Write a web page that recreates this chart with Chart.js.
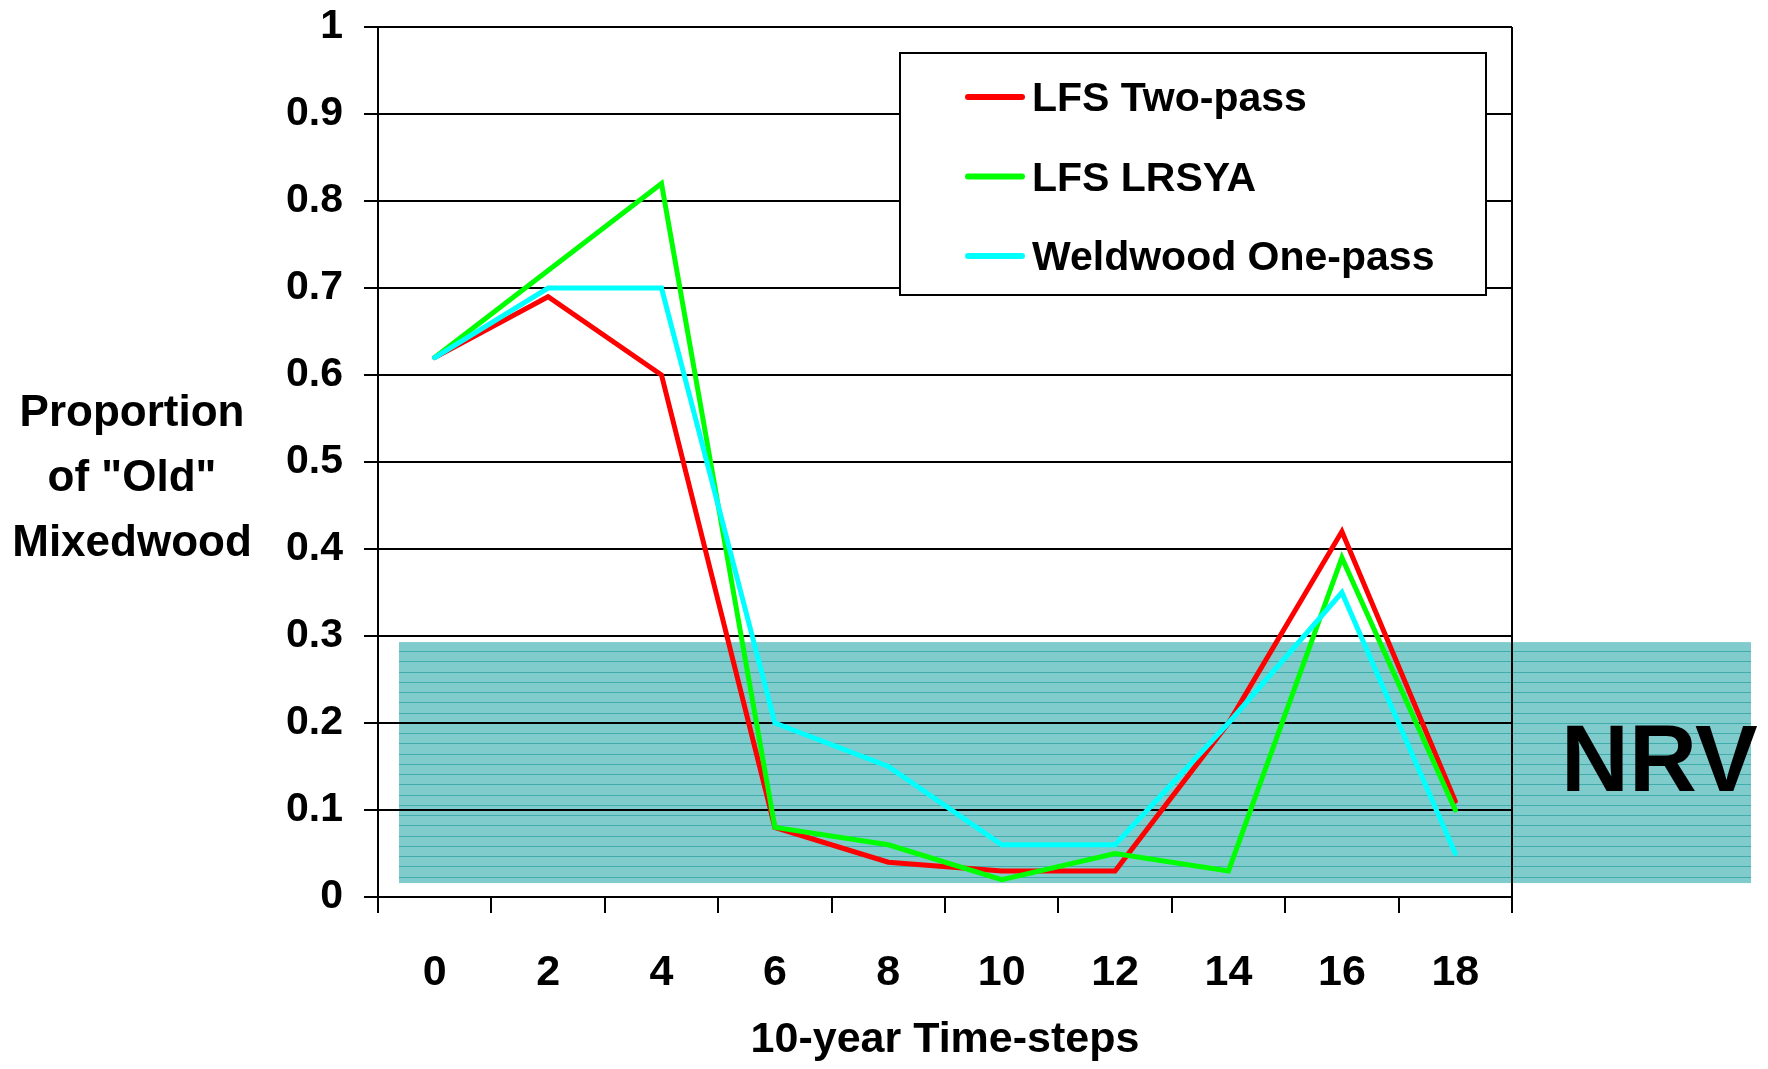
<!DOCTYPE html>
<html lang="en">

<head>
  <meta charset="utf-8">
  <title>Proportion of "Old" Mixedwood</title>
  <script src="https://cdn.jsdelivr.net/npm/chart.js@4.4.1/dist/chart.umd.min.js"></script>
  <style>
    html, body { margin: 0; padding: 0; background: #fff; }
    #wrap { width: 1768px; height: 1069px; }
  </style>
</head>

<body>
  <div id="wrap">
    <canvas id="chart-line" width="1768" height="1069"></canvas>
  </div>

  <script>
    // x axis: 10-year time steps
    var timeSteps = ['0', '2', '4', '6', '8', '10', '12', '14', '16', '18'];
    // y axis tick labels, 0 -> 1
    var yTickLabels = ['0', '0.1', '0.2', '0.3', '0.4', '0.5', '0.6', '0.7', '0.8', '0.9', '1'];

    var seriesNames = ['LFS Two-pass', 'LFS LRSYA', 'Weldwood One-pass'];
    var seriesColors = ['#ff0000', '#00ff00', '#00ffff'];

    var twoPass = [0.62, 0.69, 0.60, 0.08, 0.04, 0.03, 0.03, 0.20, 0.42, 0.11];
    var lrsya = [0.62, 0.72, 0.82, 0.08, 0.06, 0.02, 0.05, 0.03, 0.39, 0.10];
    var onePass = [0.62, 0.70, 0.70, 0.20, 0.15, 0.06, 0.06, 0.20, 0.35, 0.05];

    // NRV band (low, high)
    var nrvRange = [0.016, 0.293];
    var nrvLabel = 'NRV';

    var yTitleLines = ['Proportion', 'of "Old"', 'Mixedwood'];
    var xTitle = '10-year Time-steps';

    var FAMILY = '"Liberation Sans", Arial, sans-serif';

    // band, horizontal y title, NRV text, right border and boxed legend
    var decorations = {
      id: 'decorations',
      beforeDraw: function (chart) {
        var ctx = chart.ctx;
        var area = chart.chartArea;
        var y = chart.scales.y;
        ctx.save();
        ctx.fillStyle = '#ffffff';
        ctx.fillRect(0, 0, chart.width, chart.height);

        var top = y.getPixelForValue(nrvRange[1]);
        var bottom = y.getPixelForValue(nrvRange[0]);
        var left = area.left + 21;
        var right = chart.width - 17;
        ctx.fillStyle = '#80cbcb';
        ctx.fillRect(left, top, right - left, bottom - top);
        // thin darker stripes
        ctx.strokeStyle = 'rgba(38,158,158,0.7)';
        ctx.lineWidth = 1;
        for (var sy = top + 9; sy < bottom - 2; sy += 10.25) {
          ctx.beginPath();
          ctx.moveTo(left, Math.round(sy) + 0.5);
          ctx.lineTo(right, Math.round(sy) + 0.5);
          ctx.stroke();
        }
        ctx.restore();
      },
      afterDraw: function (chart) {
        var ctx = chart.ctx;
        var area = chart.chartArea;
        var y = chart.scales.y;
        ctx.save();

        // right border of the plot
        ctx.strokeStyle = '#000';
        ctx.lineWidth = 2;
        ctx.beginPath();
        ctx.moveTo(area.right, area.top);
        ctx.lineTo(area.right, area.bottom + 16);
        ctx.stroke();

        // y title, written horizontally on three lines
        ctx.fillStyle = '#000';
        ctx.font = 'bold 44px ' + FAMILY;
        ctx.textAlign = 'center';
        ctx.textBaseline = 'middle';
        yTitleLines.forEach(function (line, i) {
          ctx.fillText(line, 132, 414 + i * 65);
        });

        // NRV label
        var nrvMid = (y.getPixelForValue(nrvRange[0]) + y.getPixelForValue(nrvRange[1])) / 2;
        ctx.font = 'bold 94px ' + FAMILY;
        ctx.textAlign = 'left';
        ctx.fillText(nrvLabel, 1561, nrvMid + 2);

        // legend box
        var bx = area.right - 612, by = area.top + 26, bw = 586, bh = 242;
        ctx.fillStyle = '#fff';
        ctx.fillRect(bx, by, bw, bh);
        ctx.strokeStyle = '#000';
        ctx.lineWidth = 2;
        ctx.strokeRect(bx, by, bw, bh);
        ctx.font = 'bold 41px ' + FAMILY;
        ctx.textAlign = 'left';
        ctx.lineCap = 'round';
        chart.data.datasets.forEach(function (ds, i) {
          var ly = by + 44 + i * 79.5;
          ctx.strokeStyle = ds.borderColor;
          ctx.lineWidth = 6;
          ctx.beginPath();
          ctx.moveTo(bx + 68, ly);
          ctx.lineTo(bx + 122, ly);
          ctx.stroke();
          ctx.fillStyle = '#000';
          ctx.fillText(ds.label, bx + 132, ly + 3);
        });
        ctx.restore();
      }
    };

    var series = [twoPass, lrsya, onePass];
    var datasets = series.map(function (values, i) {
      return {
        label: seriesNames[i],
        data: values,
        borderColor: seriesColors[i],
        backgroundColor: seriesColors[i],
        borderWidth: 5,
        borderCapStyle: 'round',
        pointRadius: 0,
        tension: 0,
        fill: false,
        // cyan drawn on top, red at the bottom
        order: 2 - i
      };
    });

    new Chart(document.getElementById('chart-line'), {
      type: 'line',
      data: {
        labels: timeSteps,
        datasets: datasets
      },
      options: {
        responsive: false,
        animation: false,
        layout: {
          padding: { left: 0, top: 27, right: 256, bottom: 0 }
        },
        plugins: {
          legend: { display: false },
          tooltip: { enabled: false }
        },
        scales: {
          x: {
            type: 'category',
            offset: true,
            afterFit: function (scale) {
              scale.height = 172;
              scale.paddingLeft = 0;
              scale.paddingRight = 0;
            },
            grid: {
              offset: true,
              drawOnChartArea: false,
              drawTicks: true,
              tickLength: 16,
              color: '#000',
              lineWidth: 2
            },
            border: { display: true, color: '#000', width: 2 },
            ticks: {
              color: '#000',
              padding: 34,
              maxRotation: 0,
              autoSkip: false,
              font: { family: FAMILY, size: 43, weight: 'bold' }
            },
            title: {
              display: true,
              text: xTitle,
              color: '#000',
              padding: { top: 4, bottom: 3 },
              font: { family: FAMILY, size: 43, weight: 'bold' }
            }
          },
          y: {
            min: 0,
            max: 1,
            afterFit: function (scale) {
              scale.width = 378;
              // let the layout padding alone place the top of the plot
              scale.paddingTop = 0;
              scale.paddingBottom = 0;
            },
            grid: {
              color: '#000',
              lineWidth: 2,
              drawTicks: true,
              tickLength: 14
            },
            border: { display: true, color: '#000', width: 2 },
            ticks: {
              stepSize: 0.1,
              color: '#000',
              padding: 21,
              font: { family: FAMILY, size: 41, weight: 'bold' },
              callback: function (value, index) {
                return yTickLabels[index];
              }
            }
          }
        }
      },
      plugins: [decorations]
    });
  </script>
</body>

</html>
